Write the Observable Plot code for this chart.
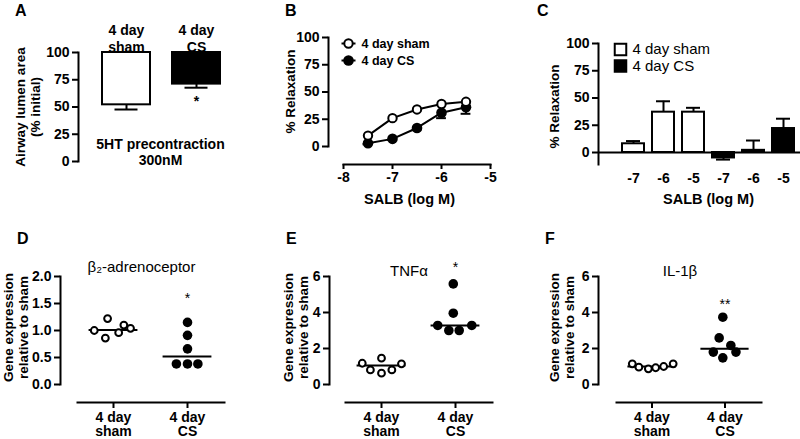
<!DOCTYPE html>
<html>
<head>
<meta charset="utf-8">
<script src="https://cdn.jsdelivr.net/npm/d3@7"></script>
<script src="https://cdn.jsdelivr.net/npm/@observablehq/plot@0.6"></script>
<style>
  body { margin: 0; background: #fff; }
  #fig { position: relative; width: 800px; height: 439px; overflow: hidden; background: #fff;
         font-family: "Liberation Sans", Arial, Helvetica, sans-serif; color: #000; }
  #fig svg { position: absolute; max-width: none; }
  .letter { position: absolute; font-weight: bold; font-size: 16px; line-height: 16px; }
</style>
</head>
<body>
<div id="fig"></div>
<script>
// ---------------- Panel A : airway lumen area ----------------
const groupsA = ["4 day\nsham", "4 day\nCS"];
const lumenA = [52, 71];
const lumenErrA = [4.3, 3.3];
const sigTextA = ["", "*"];
const sigYA = [null, 58.7];
const yTicksA = [0, 25, 50, 75, 100];
const noteA = "5HT precontraction\n300nM";
const yTitleA = "Airway lumen area\n(% initial)";

// ---------------- Panel B : SALB concentration-response ----------------
const concB = [-7.5, -7, -6.5, -6, -5.5];
const shamB = [10, 26, 34, 39, 41];
const csB = [3, 7, 17, 31, 36];
const csErrB = [1, 1, 2, 5, 6];
const xTicksB = [-8, -7, -6, -5];
const yTicksB = [0, 25, 50, 75, 100];
const legendB = ["4 day sham", "4 day CS"];

// ---------------- Panel C : SALB relaxation bars ----------------
const concC = ["-7", "-6", "-5"];
const shamC = [8, 37, 37];
const shamErrC = [2.5, 10, 4];
const csC = [-5, 2, 22];
const csErrC = [1.5, 9, 9];
const yTicksC = [0, 25, 50, 75, 100];
const legendC = ["4 day sham", "4 day CS"];
const xTitleBC = "SALB (log M)";
const yTitleBC = "% Relaxation";

// ---------------- Panels D-F : gene expression ----------------
const groupsDEF = ["4 day\nsham", "4 day\nCS"];
const yTitleDEF = "Gene expression\nrelative to sham";

const titleD = "β₂-adrenoceptor";
const shamD = [1.0, 1.22, 0.86, 0.96, 1.1, 1.04];
const shamJitD = [-0.26, -0.08, -0.11, 0.07, 0.14, 0.23];
const csD = [1.15, 0.91, 0.66, 0.38, 0.38, 0.38];
const csJitD = [0, 0, 0, -0.15, 0, 0.14];
const medianD = [1.01, 0.52];
const sigD = "*";
const sigYD = 1.65;
const yTicksD = [0, 0.5, 1, 1.5, 2];

const titleE = "TNFα";
const shamE = [1.18, 0.81, 1.46, 0.63, 0.81, 1.15];
const shamJitE = [-0.26, -0.15, 0, 0, 0.14, 0.27];
const csE = [5.59, 3.96, 3.28, 3.0, 3.0, 3.28];
const csJitE = [-0.03, -0.03, -0.24, -0.09, 0.05, 0.22];
const medianE = [1.05, 3.28];
const sigE = "*";
const sigYE = 6.69;
const yTicksE = [0, 2, 4, 6];

const titleF = "IL-1β";
const shamF = [1.15, 0.96, 0.87, 0.93, 1.0, 1.15];
const shamJitF = [-0.27, -0.18, -0.05, 0.05, 0.16, 0.29];
const csF = [3.74, 2.59, 2.17, 1.8, 1.8, 1.48];
const csJitF = [-0.03, -0.08, 0.08, -0.16, 0.15, -0.03];
const medianF = [1.0, 1.98];
const sigF = "**";
const sigYF = 4.64;
const yTicksF = [0, 2, 4, 6];

// ---------------- helpers ----------------
const FONT = '"Liberation Sans", Arial, Helvetica, sans-serif';
const fig = document.getElementById("fig");
const baseStyle = {fontFamily: FONT, fontSize: "14px", color: "black", background: "transparent", overflow: "visible"};
const bold = {fontWeight: "bold"};
function place(svg, left, top) {
  svg.style.left = left + "px";
  svg.style.top = top + "px";
  fig.appendChild(svg);
}
function letter(t, left, top) {
  const d = document.createElement("div");
  d.className = "letter";
  d.textContent = t;
  d.style.left = left + "px";
  d.style.top = top + "px";
  fig.appendChild(d);
}
const fillOf = g => (g === 0 ? "white" : "black");
const lineSym = {draw(ctx, size) { const r = Math.sqrt(size / Math.PI); ctx.moveTo(-r, 0); ctx.lineTo(r, 0); }};
const yTitle = (t, dx, dy, lh) => Plot.text([t], {frameAnchor: "left", rotate: -90, dx, dy, textAnchor: "middle",
  lineAnchor: "middle", fontSize: 13.5, ...bold, lineHeight: lh});

// ---------------- Panel A ----------------
const dataA = groupsA.map((g, i) => ({g, i, v: lumenA[i], e: lumenErrA[i], s: sigTextA[i], sy: sigYA[i]}));
const plotA = Plot.plot({
  width: 260, height: 200, marginLeft: 78, marginTop: 52, marginBottom: 39, marginRight: 18,
  style: baseStyle,
  x: {type: "band", domain: groupsA, range: [80, 242], padding: 0.314, axis: null},
  y: {domain: [0, 100]},
  marks: [
    Plot.frame({anchor: "left", strokeWidth: 2}),
    Plot.axisY({ticks: yTicksA, tickSize: 6, tickPadding: 3, fontSize: 14, ...bold, strokeWidth: 2, label: null}),
    Plot.ruleX(dataA, {x: "g", y1: "v", y2: d => d.v - d.e, strokeWidth: 2}),
    Plot.tickY(dataA, {x: "g", y: d => d.v - d.e, insetLeft: 12.5, insetRight: 12.5, strokeWidth: 2}),
    Plot.barY(dataA, {x: "g", y1: 100, y2: "v", fill: d => fillOf(d.i), stroke: "black", strokeWidth: 2}),
    Plot.text(dataA, {x: "g", frameAnchor: "top", text: "g", lineAnchor: "bottom", dy: -1, fontSize: 14, ...bold, lineHeight: 1.15}),
    Plot.text(dataA.filter(d => d.s), {x: "g", y: "sy", text: "s", lineAnchor: "middle", dy: 3.5, fontSize: 14, ...bold}),
    Plot.text([noteA], {frameAnchor: "bottom", lineAnchor: "bottom", dy: 3, fontSize: 14, ...bold, lineHeight: 1.1}),
    yTitle(yTitleA, -51, 0, 1.15)
  ]
});
place(plotA, 0, 0);

// ---------------- Panel B ----------------
const shamRowsB = concB.map((c, i) => ({c, v: shamB[i]}));
const csRowsB = concB.map((c, i) => ({c, v: csB[i], e: csErrB[i]}));
const plotB = Plot.plot({
  width: 260, height: 210, marginLeft: 68, marginTop: 37, marginBottom: 46, marginRight: 30,
  style: baseStyle,
  x: {domain: [-8, -5], range: [83, 230]},
  y: {domain: [0, 100], range: [146, 37]},
  marks: [
    Plot.frame({anchor: "left", insetBottom: 18, strokeWidth: 2}),
    Plot.frame({anchor: "bottom", insetLeft: 15, strokeWidth: 2}),
    Plot.axisY({ticks: yTicksB, tickSize: 6, tickPadding: 3, fontSize: 14, ...bold, strokeWidth: 2, label: null}),
    Plot.axisX({ticks: xTicksB, tickFormat: d => String(d), tickSize: 5, tickPadding: 3, fontSize: 14, ...bold, strokeWidth: 2, label: null}),
    Plot.line(shamRowsB, {x: "c", y: "v", strokeWidth: 2}),
    Plot.line(csRowsB, {x: "c", y: "v", strokeWidth: 2}),
    Plot.ruleX(csRowsB, {x: "c", y1: "v", y2: d => d.v - d.e, strokeWidth: 2}),
    Plot.ruleY(csRowsB, {y: d => d.v - d.e, x1: d => d.c - 0.1, x2: d => d.c + 0.1, strokeWidth: 2}),
    Plot.dot(csRowsB, {x: "c", y: "v", r: 5.3, fill: "black"}),
    Plot.dot(shamRowsB, {x: "c", y: "v", r: 4.2, fill: "white", stroke: "black", strokeWidth: 2}),
    // legend
    Plot.dot(legendB.slice(0, 1), {frameAnchor: "top-left", dx: 20, dy: 6, symbol: lineSym, r: 7, stroke: "black", strokeWidth: 2}),
    Plot.dot(legendB.slice(1), {frameAnchor: "top-left", dx: 20, dy: 23, symbol: lineSym, r: 7, stroke: "black", strokeWidth: 2}),
    Plot.dot(legendB.slice(0, 1), {frameAnchor: "top-left", dx: 20, dy: 6, r: 4.2, fill: "white", stroke: "black", strokeWidth: 2}),
    Plot.dot(legendB.slice(1), {frameAnchor: "top-left", dx: 20, dy: 23, r: 5.3, fill: "black"}),
    Plot.text(legendB.slice(0, 1), {frameAnchor: "top-left", dx: 33, dy: 6, textAnchor: "start", lineAnchor: "middle", fontSize: 12.5, ...bold}),
    Plot.text(legendB.slice(1), {frameAnchor: "top-left", dx: 33, dy: 23, textAnchor: "start", lineAnchor: "middle", fontSize: 12.5, ...bold}),
    Plot.text([xTitleBC], {frameAnchor: "bottom", lineAnchor: "top", dy: 29, fontSize: 14.5, ...bold}),
    yTitle(yTitleBC, -38, -9.5, 1)
  ]
});
place(plotB, 260, 0);

// ---------------- Panel C ----------------
const barsC = [
  ...concC.map((c, i) => ({k: "sham " + c, c, g: 0, v: shamC[i], e: shamErrC[i]})),
  ...concC.map((c, i) => ({k: "CS " + c, c, g: 1, v: csC[i], e: csErrC[i]}))
];
const errEnd = d => d.v + Math.sign(d.v || 1) * d.e;
const plotC = Plot.plot({
  width: 280, height: 210, marginLeft: 78, marginTop: 43, marginBottom: 46, marginRight: 0,
  style: baseStyle,
  x: {type: "band", domain: barsC.map(d => d.k), range: [93, 282], padding: 0.27},
  y: {domain: [-11, 100]},
  marks: [
    Plot.frame({anchor: "left", strokeWidth: 2}),
    Plot.axisY({ticks: yTicksC, tickSize: 6, tickPadding: 3, fontSize: 14, ...bold, strokeWidth: 2, label: null}),
    Plot.axisX({tickFormat: k => k.split(" ")[1], tickSize: 0, tickPadding: 9, fontSize: 14, ...bold, label: null}),
    Plot.ruleX(barsC, {x: "k", y1: "v", y2: errEnd, strokeWidth: 2}),
    Plot.tickY(barsC, {x: "k", y: errEnd, insetLeft: 4, insetRight: 4, strokeWidth: 2}),
    Plot.barY(barsC, {x: "k", y: "v", fill: d => fillOf(d.g), stroke: "black", strokeWidth: 2}),
    Plot.ruleY([0], {strokeWidth: 2}),
    // legend
    Plot.dot(legendC.slice(0, 1), {frameAnchor: "top-left", dx: 22, dy: 6, symbol: "square", r: 6.5, fill: "white", stroke: "black", strokeWidth: 2}),
    Plot.dot(legendC.slice(1), {frameAnchor: "top-left", dx: 22, dy: 22.5, symbol: "square", r: 6.5, fill: "black", stroke: "black", strokeWidth: 2}),
    Plot.text(legendC.slice(0, 1), {frameAnchor: "top-left", dx: 34, dy: 6, textAnchor: "start", lineAnchor: "middle", fontSize: 15}),
    Plot.text(legendC.slice(1), {frameAnchor: "top-left", dx: 34, dy: 22.5, textAnchor: "start", lineAnchor: "middle", fontSize: 15}),
    Plot.text([xTitleBC], {frameAnchor: "bottom", lineAnchor: "top", dy: 29, dx: 9, fontSize: 14.5, ...bold}),
    yTitle(yTitleBC, -44, 2.5, 1)
  ]
});
place(plotC, 520, 0);

// ---------------- Panels D, E, F ----------------
function genePanel(p) {
  const rows = [
    ...p.sham.map((v, i) => ({g: 0, j: p.shamJit[i], v})),
    ...p.cs.map((v, i) => ({g: 1, j: p.csJit[i], v}))
  ];
  const meds = p.median.map((m, g) => ({g, m}));
  const sig = [{g: 1, s: p.sig, y: p.sigY}];
  return Plot.plot({
    width: p.width, height: 229, marginLeft: p.marginLeft, marginTop: 66, marginBottom: 37,
    marginRight: p.width - p.xRange[1],
    style: baseStyle,
    x: {domain: [-0.5, 1.5], range: p.xRange},
    y: {domain: [0, p.yTicks[p.yTicks.length - 1]], range: [174, 66]},
    marks: [
      Plot.frame({anchor: "left", insetBottom: 18, strokeWidth: 2}),
      Plot.frame({anchor: "bottom", insetLeft: p.xRange[0] - p.marginLeft + 1, strokeWidth: 2}),
      Plot.axisY({ticks: p.yTicks, tickFormat: p.yFmt, tickSize: 6, tickPadding: 3, fontSize: 14, ...bold, strokeWidth: 2, label: null}),
      Plot.axisX({ticks: [0, 1], tickFormat: i => groupsDEF[i], tickSize: 6, tickPadding: 3, fontSize: 14, ...bold, strokeWidth: 2, lineHeight: 1.04, label: null}),
      Plot.ruleY(meds, {y: "m", x1: d => d.g - 0.33, x2: d => d.g + 0.33, strokeWidth: 2}),
      Plot.dot(rows.filter(d => d.g === 1), {x: d => d.g + d.j, y: "v", r: 4.8, fill: "black"}),
      Plot.dot(rows.filter(d => d.g === 0), {x: d => d.g + d.j, y: "v", r: 3.4, fill: "white", stroke: "black", strokeWidth: 2}),
      Plot.text(sig, {x: "g", y: "y", text: "s", lineAnchor: "middle", dy: 3.5, fontSize: 14}),
      Plot.text([p.title], {frameAnchor: "top", lineAnchor: "middle", dx: p.titleDx, dy: p.titleDy, fontSize: 15}),
      yTitle(yTitleDEF, p.yTitleDx, -12, 1.1)
    ]
  });
}

place(genePanel({width: 270, marginLeft: 60, xRange: [76, 224], yTicks: yTicksD, yFmt: d3.format(".1f"),
  sham: shamD, shamJit: shamJitD, cs: csD, csJit: csJitD, median: medianD, sig: sigD, sigY: sigYD,
  title: titleD, titleDx: -1, titleDy: -9.5, yTitleDx: -45}), 0, 210);
place(genePanel({width: 260, marginLeft: 59, xRange: [74, 222], yTicks: yTicksE, yFmt: d => String(d),
  sham: shamE, shamJit: shamJitE, cs: csE, csJit: csJitE, median: medianE, sig: sigE, sigY: sigYE,
  title: titleE, titleDx: -2, titleDy: -5, yTitleDx: -34}), 270, 210);
place(genePanel({width: 270, marginLeft: 68, xRange: [85, 231], yTicks: yTicksF, yFmt: d => String(d),
  sham: shamF, shamJit: shamJitF, cs: csF, csJit: csJitF, median: medianF, sig: sigF, sigY: sigYF,
  title: titleF, titleDx: 0, titleDy: -5, yTitleDx: -37}), 530, 210);

// panel letters
letter("A", 15, 3);
letter("B", 285, 3);
letter("C", 537, 3);
letter("D", 17, 231);
letter("E", 286, 231);
letter("F", 545, 231);
</script>
</body>
</html>
